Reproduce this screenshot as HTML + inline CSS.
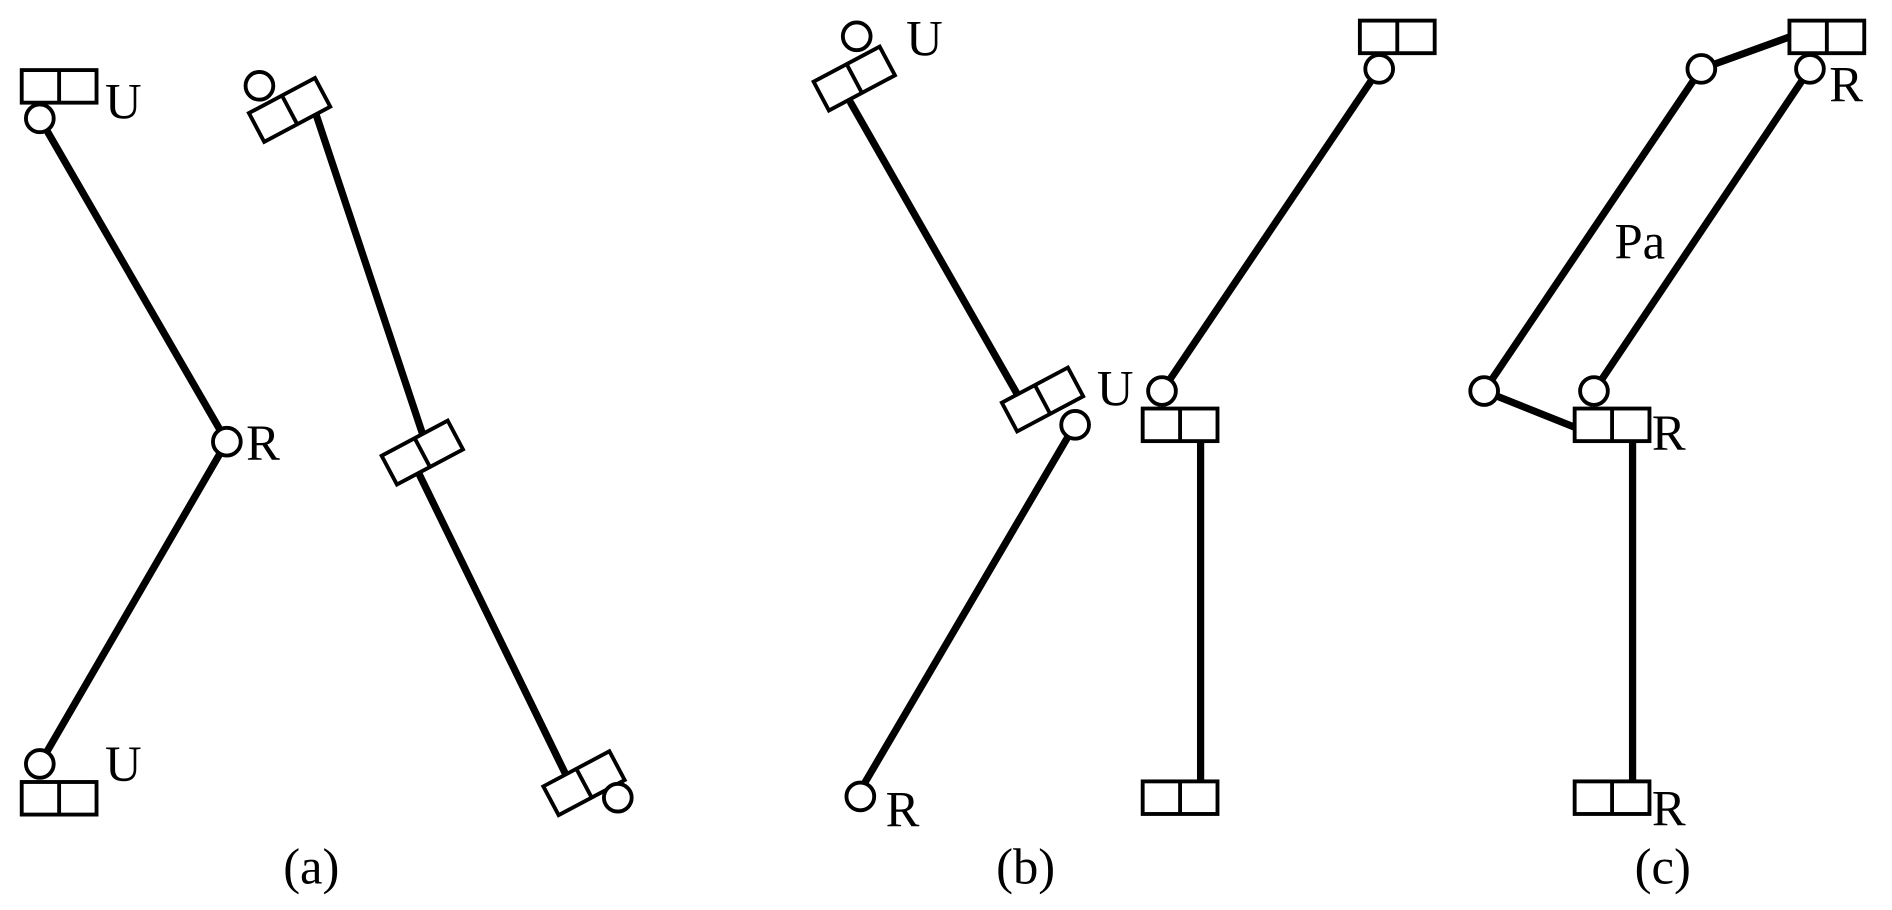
<!DOCTYPE html>
<html><head><meta charset="utf-8"><style>html,body{margin:0;padding:0;background:#fff}svg{display:block}</style></head>
<body>
<svg width="1892" height="910" viewBox="0 0 1568 754" xmlns="http://www.w3.org/2000/svg">
<defs>
<g id="bx"><rect x="-31" y="-13.5" width="62" height="27" fill="#fff" stroke="#000" stroke-width="3.2"/><line x1="0" y1="-13.5" x2="0" y2="13.5" stroke="#000" stroke-width="3.2"/></g>
</defs>
<g stroke="#000" stroke-width="6" fill="none" stroke-linecap="round">
<line x1="33" y1="98" x2="188" y2="366"/>
<line x1="188" y1="366" x2="33" y2="633"/>
<line x1="262" y1="95" x2="352" y2="365"/>
<line x1="345" y1="388" x2="468" y2="640"/>
<line x1="705" y1="85" x2="845" y2="330"/>
<line x1="885" y1="362" x2="713" y2="655"/>
<line x1="1143" y1="57" x2="963" y2="324"/>
<line x1="995" y1="366" x2="995" y2="647"/>
<line x1="1410" y1="57" x2="1490" y2="28"/>
<line x1="1410" y1="57" x2="1230" y2="324"/>
<line x1="1230" y1="324" x2="1310" y2="356"/>
<line x1="1500" y1="57" x2="1321" y2="324"/>
<line x1="1353" y1="366" x2="1353" y2="647"/>
</g>
<use href="#bx" transform="translate(49,71.5)"/>
<use href="#bx" transform="translate(49,661.5)"/>
<use href="#bx" transform="translate(240,91) rotate(-28)"/>
<use href="#bx" transform="translate(350,375) rotate(-28)"/>
<use href="#bx" transform="translate(484,649) rotate(-28)"/>
<use href="#bx" transform="translate(708,65) rotate(-28)"/>
<use href="#bx" transform="translate(864,331) rotate(-28)"/>
<use href="#bx" transform="translate(1158,30.5)"/>
<use href="#bx" transform="translate(978,352)"/>
<use href="#bx" transform="translate(978,661)"/>
<use href="#bx" transform="translate(1514,30.5)"/>
<use href="#bx" transform="translate(1336,352)"/>
<use href="#bx" transform="translate(1336,661)"/>
<g fill="#fff" stroke="#000" stroke-width="3.2">
<circle cx="33" cy="98" r="11.5"/>
<circle cx="188" cy="366" r="11.5"/>
<circle cx="33" cy="633" r="11.5"/>
<circle cx="215" cy="71" r="11.5"/>
<circle cx="512" cy="661" r="11.5"/>
<circle cx="710" cy="30" r="11.5"/>
<circle cx="891" cy="352" r="11.5"/>
<circle cx="713" cy="660" r="11.5"/>
<circle cx="1143" cy="57" r="11.5"/>
<circle cx="963" cy="324" r="11.5"/>
<circle cx="1410" cy="57" r="11.5"/>
<circle cx="1500" cy="57" r="11.5"/>
<circle cx="1230" cy="324" r="11.5"/>
<circle cx="1321" cy="324" r="11.5"/>
</g>
<g font-family="Liberation Serif, serif" font-size="42" fill="#000">
<text x="87" y="98">U</text>
<text x="87" y="647">U</text>
<text x="204" y="381">R</text>
<text x="751" y="46">U</text>
<text x="909" y="336">U</text>
<text x="734" y="685">R</text>
<text x="1516" y="84">R</text>
<text x="1338" y="214">Pa</text>
<text x="1369" y="373">R</text>
<text x="1369" y="684">R</text>
<text x="258" y="732" text-anchor="middle">(a)</text>
<text x="850" y="732" text-anchor="middle">(b)</text>
<text x="1378" y="732" text-anchor="middle">(c)</text>
</g>
</svg>
</body></html>
